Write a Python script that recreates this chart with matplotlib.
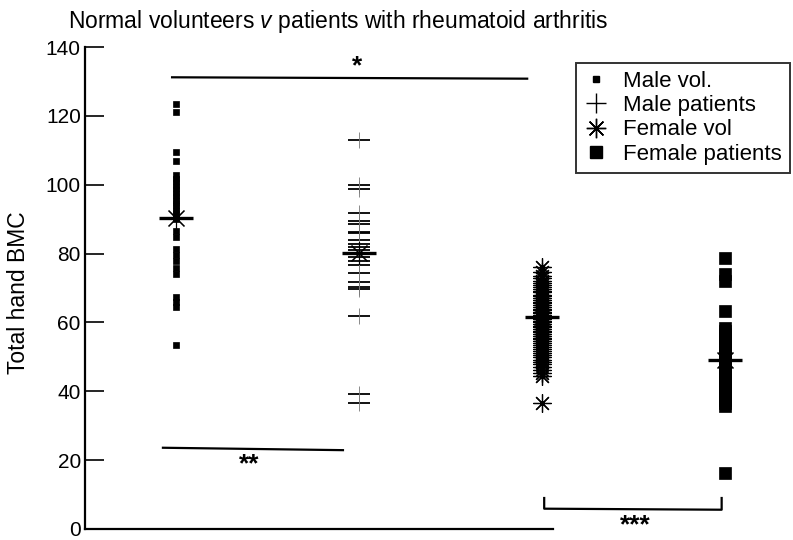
import matplotlib
matplotlib.use("Agg")
import matplotlib.pyplot as plt
from matplotlib.lines import Line2D

plt.rcParams['font.family'] = ['Liberation Sans', 'DejaVu Sans']
plt.rcParams['mathtext.fontset'] = 'custom'
plt.rcParams['mathtext.it'] = 'Liberation Sans:italic'
plt.rcParams['mathtext.rm'] = 'Liberation Sans'

# ---- data ----
groups = ["Male vol.", "Male patients", "Female vol", "Female patients"]
male_vol = [123.3, 121.0, 109.4, 107.0, 102.7, 101.7, 100.7, 99.7, 98.7, 97.7,
            96.7, 95.7, 94.7, 93.7, 92.7, 91.7, 90.7, 89.9, 86.5, 84.8, 81.2,
            79.5, 77.9, 75.8, 74.1, 67.3, 65.8, 64.5, 53.5]
male_pat = [113.1, 100.0, 98.7, 91.8, 89.6, 88.5, 86.4, 86.0, 83.9, 82.9, 81.8,
            81.1, 80.0, 78.9, 77.7, 76.6, 74.4, 71.8, 70.4, 69.7, 61.8, 39.3, 36.6]
female_vol = [76.0, 74.6, 73.4, 72.8, 72.1, 71.5, 70.9, 70.3, 69.8, 69.2, 68.7,
              68.1, 67.6, 67.0, 66.5, 66.0, 65.5, 65.0, 64.5, 64.0, 63.6, 63.1,
              62.7, 62.2, 61.8, 61.3, 60.9, 60.4, 60.0, 59.5, 59.0, 58.6, 58.1,
              57.6, 57.1, 56.6, 56.1, 55.6, 55.1, 54.6, 54.0, 53.5, 52.9, 52.3,
              51.7, 51.1, 50.5, 49.9, 49.2, 48.5, 47.8, 47.0, 46.2, 45.3, 44.3,
              36.5]
female_pat = [78.8, 74.0, 72.0, 63.3, 58.3, 57.5, 56.5, 55.5, 54.5, 53.5, 52.5,
              51.5, 50.5, 49.5, 48.5, 47.5, 46.5, 45.5, 44.5, 43.5, 42.5, 41.5,
              40.5, 39.5, 38.5, 37.5, 36.5, 35.7, 16.4]
means = [90.3, 80.3, 61.6, 49.2]
yticks = [0, 20, 40, 60, 80, 100, 120, 140]
positions = [1, 2, 3, 4]

W, H = 793, 540
fig = plt.figure(figsize=(W / 100, H / 100), dpi=100)
ax = fig.add_axes([85 / W, 11 / H, (W - 85) / W, (529 - 47) / H])
ax.set_xlim(0.5, 4.37)
ax.set_ylim(0, 140)

# group 1: small squares
ax.plot([positions[0]] * len(male_vol), male_vol, ls='none', color='black',
        marker='s', ms=5, mew=0.5)
# group 2: crosses with bold horizontal and faint vertical arm
ax.plot([positions[1]] * len(male_pat), male_pat, ls='none', color='black',
        marker='_', ms=16, mew=1.3)
ax.plot([positions[1]] * len(male_pat), male_pat, ls='none', color='#777777',
        marker='|', ms=12, mew=0.6)
# group 3: asterisks
ax.plot([positions[2]] * len(female_vol), female_vol, ls='none', color='black',
        marker=(8, 2, 0), ms=13, mew=0.9)
# group 4: large squares
ax.plot([positions[3]] * len(female_pat), female_pat, ls='none', color='black',
        marker='s', ms=8.5, mew=0.5)

for pos, m in zip(positions, means):
    ax.plot([pos], [m], marker='_', ms=24, mew=2.4, color='black', ls='none')
    ax.plot([pos], [m], marker=(8, 2, 0), ms=16, mew=0.8, color='black', ls='none')

# significance annotations
ax.plot([0.976, 2.917], [131.2, 130.8], color='black', lw=1.6)
ax.text(1.99, 134.3, '*', ha='center', va='center', fontsize=19, fontweight='bold')
ax.plot([0.926, 1.91], [23.6, 22.9], color='black', lw=1.6)
ax.text(1.40, 18.8, '**', ha='center', va='center', fontsize=19, fontweight='bold')
ax.plot([3.01, 3.01, 3.98, 3.98], [9.0, 5.9, 5.6, 9.0], color='black', lw=1.6)
ax.text(3.51, 1.2, '***', ha='center', va='center', fontsize=19, fontweight='bold')

# axes styling
for s in ['top', 'right']:
    ax.spines[s].set_visible(False)
ax.spines['left'].set_linewidth(1.6)
ax.spines['bottom'].set_linewidth(1.6)
ax.spines['bottom'].set_bounds(0.5, 3.06)
ax.set_yticks(yticks)
ax.set_yticklabels([str(v) for v in yticks], fontsize=15)
ax.tick_params(axis='y', direction='in', length=14, width=1.2, pad=3)
ax.set_xticks([])
ax.set_ylabel('Total hand BMC', fontsize=16.5)
ax.yaxis.set_label_coords(-0.078, 0.49)

fig.text(68 / W, 1 - 28 / H,
         'Normal volunteers $\\it{v}$ patients with rheumatoid arthritis',
         fontsize=16.5, va='baseline', ha='left')

handles = [
    Line2D([], [], ls='none', color='black', marker='s', ms=4),
    Line2D([], [], ls='none', color='black', marker='+', ms=15, mew=1.0),
    Line2D([], [], ls='none', color='black', marker=(8, 2, 0), ms=14, mew=1.0),
    Line2D([], [], ls='none', color='black', marker='s', ms=9),
]
leg = ax.legend(handles, groups, loc='upper right',
                bbox_to_anchor=(790 / W, 1 - 63 / H), bbox_transform=fig.transFigure,
                borderaxespad=0, fontsize=16, frameon=True, fancybox=False,
                handlelength=1.1, handletextpad=0.7, labelspacing=0.15,
                borderpad=0.35, edgecolor='black')
leg.get_frame().set_linewidth(1.4)

fig.savefig('out.png', dpi=100)
